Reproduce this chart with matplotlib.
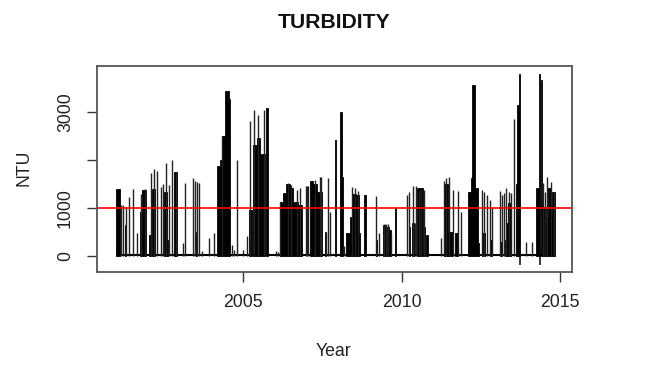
import matplotlib
matplotlib.use("Agg")
import matplotlib.pyplot as plt
import numpy as np

plt.rcParams['font.family'] = ['Liberation Sans', 'DejaVu Sans']

# ---- data ----
record_start = 2001.0
record_end = 2014.84
base_ntu = 30
threshold_ntu = 1000

# dense (solid) periods: start year, end year, level (NTU)
block_start = [2001.00, 2001.26, 2001.74, 2001.82, 2002.04, 2002.12, 2002.49, 2002.61,
               2002.82, 2003.51, 2004.17, 2004.26, 2004.33, 2004.43, 2004.54, 2005.19,
               2005.30, 2005.43, 2005.54, 2005.71, 2006.18, 2006.27, 2006.36, 2006.48,
               2006.59, 2006.74, 2007.10, 2007.22, 2007.33, 2007.59, 2007.89, 2008.07,
               2008.12, 2008.25, 2008.36, 2008.45, 2008.56, 2008.65, 2008.82, 2009.21,
               2009.41, 2009.54, 2009.62, 2009.78, 2010.23, 2010.34, 2010.41, 2010.50,
               2010.71, 2010.78, 2011.35, 2011.47, 2011.70, 2012.10, 2012.19, 2012.22,
               2012.31, 2012.40, 2012.55, 2012.78, 2013.12, 2013.25, 2013.31, 2013.37,
               2013.61, 2013.66, 2013.72, 2014.25, 2014.34, 2014.39, 2014.43, 2014.48,
               2014.55, 2014.63, 2014.72, 2014.76]
block_end = [2001.13, 2001.29, 2001.80, 2001.94, 2002.10, 2002.22, 2002.59, 2002.64,
             2002.91, 2003.54, 2004.26, 2004.33, 2004.43, 2004.54, 2004.58, 2005.27,
             2005.43, 2005.54, 2005.69, 2005.78, 2006.27, 2006.36, 2006.48, 2006.59,
             2006.74, 2006.85, 2007.22, 2007.33, 2007.49, 2007.63, 2007.94, 2008.12,
             2008.15, 2008.36, 2008.45, 2008.56, 2008.65, 2008.70, 2008.87, 2009.24,
             2009.52, 2009.60, 2009.66, 2009.82, 2010.27, 2010.38, 2010.44, 2010.68,
             2010.75, 2010.82, 2011.47, 2011.62, 2011.78, 2012.19, 2012.22, 2012.31,
             2012.40, 2012.45, 2012.62, 2012.84, 2013.18, 2013.31, 2013.37, 2013.47,
             2013.66, 2013.71, 2013.75, 2014.33, 2014.38, 2014.43, 2014.48, 2014.55,
             2014.63, 2014.72, 2014.76, 2014.84]
block_ntu = [1400, 640, 920, 1380, 440, 1390, 1340, 330,
             1750, 490, 1870, 1990, 2500, 3440, 3280, 960,
             2310, 2460, 2130, 3075, 1130, 1320, 1510, 1410,
             1130, 1060, 1570, 1510, 1340, 500, 2415, 2990,
             1650, 470, 820, 1300, 1270, 480, 1270, 330,
             645, 600, 540, 990, 610, 680, 680, 1410,
             600, 440, 1500, 500, 480, 1340, 1615, 3560,
             1410, 270, 480, 330, 300, 330, 680, 1100,
             1510, 3140, 3800, 1410, 3800, 3660, 1150, 1030,
             820, 1410, 900, 1340]

# isolated peaks
spike_year = [2001.16, 2001.22, 2001.31, 2001.40, 2001.54, 2001.65, 2001.77, 2001.90,
              2002.08, 2002.19, 2002.28, 2002.40, 2002.47, 2002.57, 2002.67, 2002.77,
              2002.89, 2003.11, 2003.17, 2003.41, 2003.47, 2003.54, 2003.61, 2003.70,
              2003.92, 2004.07, 2004.35, 2004.64, 2004.70, 2004.82, 2005.00, 2005.11,
              2005.22, 2005.36, 2005.47, 2005.66, 2006.03, 2006.10, 2006.16, 2006.42,
              2006.52, 2006.70, 2006.79, 2006.98, 2007.02, 2007.06, 2007.27, 2007.43,
              2007.47, 2007.61, 2007.69, 2007.73, 2008.20, 2008.43, 2008.52, 2008.62,
              2009.20, 2009.29, 2009.45, 2009.50, 2009.57, 2009.67, 2010.18, 2010.25,
              2010.36, 2010.46, 2010.55, 2010.63, 2010.70, 2011.25, 2011.34, 2011.41,
              2011.51, 2011.61, 2011.78, 2011.88, 2012.54, 2012.60, 2012.69, 2012.79,
              2012.87, 2013.11, 2013.17, 2013.23, 2013.30, 2013.39, 2013.45, 2013.55,
              2013.93, 2014.13, 2014.48, 2014.53, 2014.60, 2014.72, 2014.82]
spike_ntu = [1060, 1060, 1030, 1235, 1395, 470, 1300, 1400,
             1720, 1805, 1770, 1445, 1490, 1945, 1480, 2010,
             1755, 265, 1515, 1617, 1570, 1540, 1527, 100,
             370, 470, 2500, 230, 120, 2000, 125, 415,
             2810, 3050, 2935, 3050, 100, 80, 1130, 1530,
             1480, 1375, 1420, 1465, 1465, 1465, 1580, 1640,
             1640, 485, 1617, 920, 200, 1445, 1420, 1360,
             1250, 485, 666, 666, 666, 470, 1270, 1340,
             1455, 1455, 1380, 1390, 1375, 370, 1570, 1617,
             1640, 1375, 1360, 920, 1375, 1330, 1270, 1165,
             990, 1360, 1270, 1305, 1410, 1340, 1320, 2845,
             300, 300, 1515, 1330, 1640, 1550, 1330]

# negative readings
dip_year = [2013.735, 2014.36]
dip_ntu = [-187, -187]

# ---- figure ----
W, H = 649, 381
fig = plt.figure(figsize=(W / 100, H / 100), dpi=100)
ax = fig.add_axes([97 / W, 1 - 272 / H, (572 - 97) / W, (272 - 66) / H])

ax.hlines(base_ntu, record_start, record_end, color='black', lw=1.5)
widths = np.array(block_end) - np.array(block_start)
ax.bar(block_start, block_ntu, width=widths, bottom=0, align='edge',
       color='black', edgecolor='black', linewidth=0.6)
ax.vlines(spike_year, 0, spike_ntu, color='#222222', lw=1.0)
ax.vlines(dip_year, dip_ntu, 0, color='black', lw=1.1)
ax.axhline(threshold_ntu, color='red', lw=1.2)

ax.set_xlim(2000.39, 2015.38)
ax.set_ylim(-333, 3958)
ax.set_xticks([2005, 2010, 2015])
ax.set_xticklabels(['2005', '2010', '2015'])
ax.set_yticks([0, 1000, 2000, 3000])
ax.set_yticklabels(['0', '1000', '', '3000'], rotation=90, va='center')

for s in ax.spines.values():
    s.set_color('#555555')
    s.set_linewidth(1.3)
ax.tick_params(axis='both', length=7.5, width=1.0, color='#333333',
               labelsize=12.7, labelcolor='#222222')
ax.tick_params(axis='x', pad=8)
ax.tick_params(axis='y', pad=9)

fig.text(334 / W, 1 - 22.5 / H, 'TURBIDITY', ha='center', va='center',
         fontsize=15.2, fontweight='bold', color='#111111')
fig.text(333 / W, 1 - 351 / H, 'Year', ha='center', va='center',
         fontsize=12.7, color='#222222')
fig.text(24 / W, 1 - 168 / H, 'NTU', ha='center', va='center', rotation=90,
         fontsize=12.7, color='#222222')

fig.savefig('out.png', dpi=100)
